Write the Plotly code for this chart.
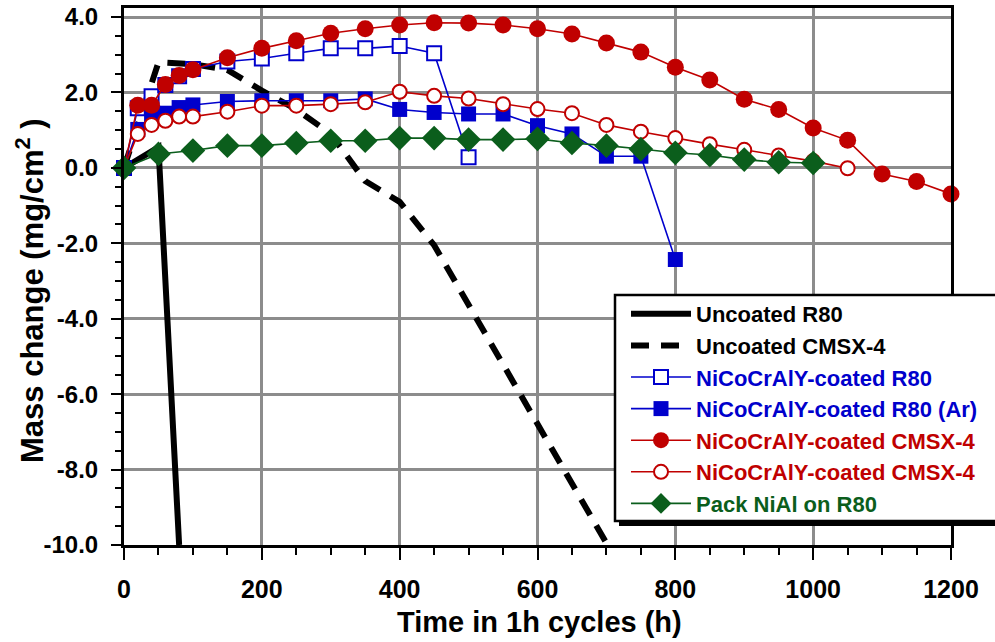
import plotly.graph_objects as go

# ---------------- data ----------------
t_unc_r80 = [0, 50, 80]
m_unc_r80 = [0, 0.55, -10.0]

t_unc_cmsx = [0, 50, 100, 150, 200, 250, 300, 350, 400, 450, 700]
m_unc_cmsx = [0, 2.8, 2.75, 2.6, 2.05, 1.55, 0.9, -0.35, -0.9, -2.05, -9.95]

t_r80_open = [0, 20, 40, 60, 80, 100, 150, 200, 250, 300, 350, 400, 450, 500]
m_r80_open = [0, 1.58, 1.9, 2.2, 2.43, 2.62, 2.82, 2.9, 3.04, 3.17, 3.17, 3.23, 3.04, 0.28]

t_r80_ar = [0, 20, 40, 60, 80, 100, 150, 200, 250, 300, 350, 400, 450, 500, 550,
            600, 650, 700, 750, 800]
m_r80_ar = [0, 1.02, 1.34, 1.45, 1.6, 1.67, 1.76, 1.78, 1.78, 1.78, 1.83, 1.55, 1.47,
            1.43, 1.43, 1.12, 0.9, 0.31, 0.31, -2.43]

t_cmsx_filled = [0, 20, 40, 60, 80, 100, 150, 200, 250, 300, 350, 400, 450, 500, 550,
                 600, 650, 700, 750, 800, 850, 900, 950, 1000, 1050, 1100, 1150, 1200]
m_cmsx_filled = [0, 1.66, 1.66, 2.21, 2.45, 2.6, 2.92, 3.17, 3.37, 3.57, 3.69, 3.79,
                 3.85, 3.84, 3.79, 3.69, 3.55, 3.31, 3.07, 2.67, 2.33, 1.82, 1.55,
                 1.06, 0.73, -0.16, -0.36, -0.69]

t_cmsx_open = [0, 20, 40, 60, 80, 100, 150, 200, 250, 300, 350, 400, 450, 500, 550,
               600, 650, 700, 750, 800, 850, 900, 950, 1000, 1050]
m_cmsx_open = [0, 0.9, 1.14, 1.25, 1.36, 1.36, 1.49, 1.65, 1.65, 1.69, 1.74, 2.02,
               1.91, 1.84, 1.69, 1.56, 1.45, 1.14, 0.96, 0.79, 0.63, 0.48, 0.33,
               0.18, -0.01]

t_nial = [0, 50, 100, 150, 200, 250, 300, 350, 400, 450, 500, 550, 600, 650, 700,
          750, 800, 850, 900, 950, 1000]
m_nial = [0, 0.37, 0.46, 0.59, 0.59, 0.66, 0.72, 0.72, 0.79, 0.79, 0.75, 0.75, 0.77,
          0.66, 0.59, 0.5, 0.4, 0.34, 0.22, 0.15, 0.13]

x_ticks = [0, 200, 400, 600, 800, 1000, 1200]
y_ticks = [4, 2, 0, -2, -4, -6, -8, -10]
y_tick_text = ["4.0", "2.0", "0.0", "-2.0", "-4.0", "-6.0", "-8.0", "-10.0"]

# ---------------- style ----------------
BLUE = "#0000CC"
RED = "#C00000"
GREEN = "#0B5E1C"
FONT = "Liberation Sans, Arial, sans-serif"

fig = go.Figure()

def add(name, x, y, line, marker=None, mode="lines+markers"):
    fig.add_trace(go.Scatter(
        x=x, y=y, name=name, mode=mode, line=line, marker=marker,
        legendgroup=name, cliponaxis=(mode == "lines"),
    ))

add("Uncoated R80", t_unc_r80, m_unc_r80,
    dict(color="black", width=6), mode="lines")
add("Uncoated CMSX-4", t_unc_cmsx, m_unc_cmsx,
    dict(color="black", width=6, dash="18px,12px"), mode="lines")
add("NiCoCrAlY-coated R80", t_r80_open, m_r80_open,
    dict(color=BLUE, width=1.6),
    dict(symbol="square", size=14, color="white", line=dict(color=BLUE, width=2)))
add("NiCoCrAlY-coated R80 (Ar)", t_r80_ar, m_r80_ar,
    dict(color=BLUE, width=1.6),
    dict(symbol="square", size=15, color=BLUE, line=dict(color=BLUE, width=0)))
add("NiCoCrAlY-coated CMSX-4", t_cmsx_filled, m_cmsx_filled,
    dict(color=RED, width=1.6),
    dict(symbol="circle", size=17, color=RED, line=dict(color=RED, width=0)))
add("NiCoCrAlY-coated CMSX-4 ", t_cmsx_open, m_cmsx_open,
    dict(color=RED, width=1.6),
    dict(symbol="circle", size=14, color="white", line=dict(color=RED, width=2)))
add("Pack NiAl on R80", t_nial, m_nial,
    dict(color=GREEN, width=1.6),
    dict(symbol="diamond", size=19, color=GREEN, line=dict(color=GREEN, width=0)))

legend_colors = ["black", "black", BLUE, BLUE, RED, RED, GREEN]
for tr, c in zip(fig.data, legend_colors):
    tr.name = f"<span style='color:{c}'>{tr.name}</span>"

L, R, T, B = 124, 44, 8, 97
W, H = 995, 642
pw, ph = W - L - R, H - T - B

def px2paper(px, py):
    return (px - L) / pw, (H - B - py) / ph

# legend box + shadow
sx0, sy0 = px2paper(619, 300)
sx1, sy1 = px2paper(1010, 526)
bx0, by0 = px2paper(615, 295)
bx1, by1 = px2paper(1005, 521)
fig.add_shape(type="rect", xref="paper", yref="paper", x0=sx0, y0=sy1, x1=sx1, y1=sy0,
              fillcolor="black", line=dict(width=0), layer="above")
fig.add_shape(type="rect", xref="paper", yref="paper", x0=bx0, y0=by1, x1=bx1, y1=by0,
              fillcolor="white", line=dict(color="black", width=2.5), layer="above")

lx, ly = px2paper(626, 293)
fig.update_layout(
    width=W, height=H,
    margin=dict(l=L, r=R, t=T, b=B, autoexpand=False),
    plot_bgcolor="white", paper_bgcolor="white",
    font=dict(family=FONT, color="black"),
    showlegend=True,
    legend=dict(
        x=lx, y=ly, xanchor="left", yanchor="top",
        bgcolor="rgba(0,0,0,0)", borderwidth=0,
        font=dict(family=FONT, size=22, weight="bold"),
        traceorder="grouped", tracegroupgap=0, itemwidth=60,
    ),
    xaxis=dict(
        range=[0, 1200], tickvals=x_ticks, ticktext=[str(v) for v in x_ticks],
        showgrid=True, gridcolor="#8c8c8c", gridwidth=3,
        showline=True, linecolor="black", linewidth=3, mirror=True,
        ticks="outside", ticklen=12, tickwidth=2, tickcolor="black",
        minor=dict(dtick=50, ticks="outside", ticklen=7, tickwidth=2, tickcolor="black", showgrid=False),
        tickfont=dict(family=FONT, size=25, weight="bold"),
        ticklabelstandoff=8,
        zeroline=False,
    ),
    yaxis=dict(
        range=[-10, 4.24], tickvals=y_ticks, ticktext=y_tick_text,
        showgrid=True, gridcolor="#8c8c8c", gridwidth=3,
        showline=True, linecolor="black", linewidth=3, mirror=True,
        ticks="outside", ticklen=10, tickwidth=2, tickcolor="black",
        minor=dict(dtick=0.5, ticks="outside", ticklen=6, tickwidth=2, tickcolor="black", showgrid=False),
        tickfont=dict(family=FONT, size=24, weight="bold"),
        ticklabelstandoff=8,
        zeroline=False,
    ),
)

tx, ty = px2paper(30, 291)
fig.add_annotation(text="Mass change (mg/cm<sup>2</sup> )", xref="paper", yref="paper",
                   x=tx, y=ty, xanchor="center", yanchor="middle", textangle=-90,
                   showarrow=False, font=dict(family=FONT, size=31, weight="bold"))
ax, ay = px2paper(539, 622)
fig.add_annotation(text="Time in 1h cycles (h)", xref="paper", yref="paper",
                   x=ax, y=ay, xanchor="center", yanchor="middle",
                   showarrow=False, font=dict(family=FONT, size=29, weight="bold"))

fig.write_html("out.html")
